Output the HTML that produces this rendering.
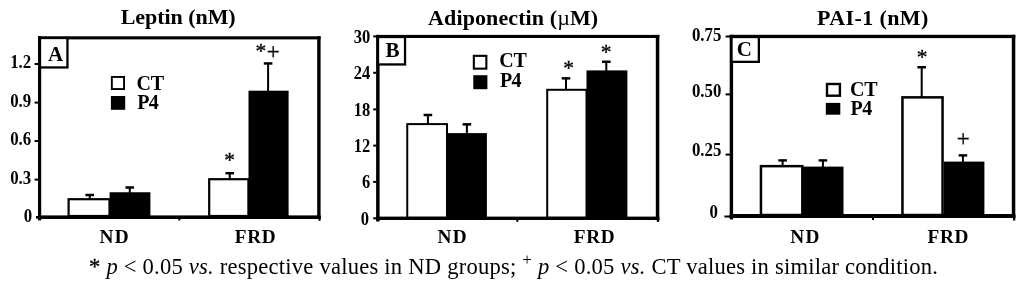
<!DOCTYPE html>
<html><head><meta charset="utf-8"><title>Figure</title>
<style>
html,body{margin:0;padding:0;background:#fff;}
svg{display:block;}
text{font-family:"Liberation Serif","Times New Roman",serif;fill:#000;}
</style></head><body>
<svg width="1024" height="283" viewBox="0 0 1024 283">
<rect x="0" y="0" width="1024" height="283" fill="#fff"/>
<rect x="38.00" y="36.30" width="282.60" height="3.10" fill="#000" />
<rect x="38.00" y="36.30" width="3.20" height="182.70" fill="#000" />
<rect x="317.20" y="36.30" width="3.40" height="182.70" fill="#000" />
<rect x="38.00" y="215.40" width="282.60" height="3.60" fill="#000" />
<rect x="40.00" y="38.00" width="27.45" height="29.45" fill="#fff" stroke="#000" stroke-width="2.3"/>
<text x="55.60" y="60.60" font-size="21" font-weight="bold" text-anchor="middle" >A</text>
<text x="120.70" y="24.00" font-size="22" font-weight="bold" text-anchor="start" textLength="115" lengthAdjust="spacing" >Leptin (nM)</text>
<text transform="translate(31.20,68.30) scale(0.86,1)" font-size="19.6" font-weight="bold" text-anchor="end">1.2</text>
<rect x="34.60" y="63.00" width="3.90" height="2.00" fill="#000" />
<text transform="translate(31.20,106.90) scale(0.86,1)" font-size="19.6" font-weight="bold" text-anchor="end">0.9</text>
<rect x="34.60" y="101.60" width="3.90" height="2.00" fill="#000" />
<text transform="translate(31.20,145.30) scale(0.86,1)" font-size="19.6" font-weight="bold" text-anchor="end">0.6</text>
<rect x="34.60" y="140.00" width="3.90" height="2.00" fill="#000" />
<text transform="translate(31.20,183.90) scale(0.86,1)" font-size="19.6" font-weight="bold" text-anchor="end">0.3</text>
<rect x="34.60" y="178.60" width="3.90" height="2.00" fill="#000" />
<text transform="translate(32.20,221.80) scale(0.86,1)" font-size="19.6" font-weight="bold" text-anchor="end">0</text>
<rect x="68.60" y="199.20" width="40.90" height="16.80" fill="#fff" stroke="#000" stroke-width="2.2"/>
<rect x="88.75" y="194.25" width="2.00" height="4.85" fill="#000" />
<rect x="85.45" y="193.75" width="8.60" height="2.50" fill="#000" />
<rect x="109.60" y="192.25" width="40.80" height="23.75" fill="#000" />
<rect x="128.75" y="186.75" width="2.00" height="6.50" fill="#000" />
<rect x="125.45" y="186.25" width="8.60" height="2.50" fill="#000" />
<rect x="209.20" y="179.20" width="39.20" height="36.80" fill="#fff" stroke="#000" stroke-width="2.2"/>
<rect x="228.75" y="172.50" width="2.00" height="6.60" fill="#000" />
<rect x="225.45" y="172.00" width="8.60" height="2.40" fill="#000" />
<rect x="248.50" y="90.70" width="40.10" height="125.30" fill="#000" />
<rect x="267.10" y="62.70" width="2.00" height="29.00" fill="#000" />
<rect x="263.80" y="62.20" width="8.60" height="2.50" fill="#000" />
<text x="229.50" y="167.30" font-size="21.5" text-anchor="middle" stroke="#000" stroke-width="0.35">*</text>
<text x="260.90" y="57.60" font-size="21.5" text-anchor="middle" stroke="#000" stroke-width="0.35">*</text>
<text x="273.30" y="58.80" font-size="23" text-anchor="middle" stroke="#000" stroke-width="0.3">+</text>
<rect x="111.85" y="76.95" width="12.20" height="12.10" fill="#fff" stroke="#000" stroke-width="1.9"/>
<rect x="110.90" y="96.00" width="14.30" height="13.80" fill="#000" />
<text x="136.60" y="89.80" font-size="20" font-weight="bold" text-anchor="start" textLength="27.6" lengthAdjust="spacing" >CT</text>
<text x="137.20" y="109.40" font-size="20" font-weight="bold" text-anchor="start" textLength="21.6" lengthAdjust="spacing" >P4</text>
<text x="114.00" y="243.40" font-size="19.3" font-weight="bold" text-anchor="middle" textLength="29.2" lengthAdjust="spacing" >ND</text>
<text x="255.20" y="243.40" font-size="19.3" font-weight="bold" text-anchor="middle" textLength="41" lengthAdjust="spacing" >FRD</text>
<rect x="178.30" y="216.00" width="2.00" height="4.50" fill="#000" />
<rect x="318.50" y="216.00" width="2.10" height="4.80" fill="#000" />
<rect x="36.00" y="216.00" width="2.50" height="2.70" fill="#000" />
<rect x="38.00" y="218.00" width="3.20" height="2.40" fill="#000" />
<rect x="376.10" y="34.90" width="283.20" height="3.10" fill="#000" />
<rect x="376.10" y="34.90" width="3.50" height="185.10" fill="#000" />
<rect x="655.80" y="34.90" width="3.50" height="185.10" fill="#000" />
<rect x="376.10" y="216.60" width="283.20" height="3.40" fill="#000" />
<rect x="378.00" y="37.00" width="27.05" height="27.45" fill="#fff" stroke="#000" stroke-width="2.3"/>
<text x="392.60" y="57.00" font-size="21" font-weight="bold" text-anchor="middle" >B</text>
<text x="428.10" y="25.00" font-size="22" font-weight="bold" text-anchor="start" textLength="170" lengthAdjust="spacing" >Adiponectin (<tspan font-weight="normal">µ</tspan>M)</text>
<text transform="translate(370.20,42.90) scale(0.93,1)" font-size="17.8" font-weight="bold" text-anchor="end">30</text>
<rect x="373.20" y="35.40" width="3.30" height="2.00" fill="#000" />
<text transform="translate(370.20,79.30) scale(0.93,1)" font-size="17.8" font-weight="bold" text-anchor="end">24</text>
<rect x="373.20" y="71.80" width="3.30" height="2.00" fill="#000" />
<text transform="translate(370.20,115.90) scale(0.93,1)" font-size="17.8" font-weight="bold" text-anchor="end">18</text>
<rect x="373.20" y="108.40" width="3.30" height="2.00" fill="#000" />
<text transform="translate(370.20,152.10) scale(0.93,1)" font-size="17.8" font-weight="bold" text-anchor="end">12</text>
<rect x="373.20" y="144.60" width="3.30" height="2.00" fill="#000" />
<text transform="translate(370.20,188.40) scale(0.93,1)" font-size="17.8" font-weight="bold" text-anchor="end">6</text>
<rect x="373.20" y="180.90" width="3.30" height="2.00" fill="#000" />
<text transform="translate(369.00,224.60) scale(0.93,1)" font-size="17.8" font-weight="bold" text-anchor="end">0</text>
<rect x="373.20" y="217.30" width="3.30" height="2.00" fill="#000" />
<rect x="407.25" y="124.10" width="39.75" height="93.40" fill="#fff" stroke="#000" stroke-width="2"/>
<rect x="426.90" y="114.25" width="2.00" height="9.85" fill="#000" />
<rect x="423.60" y="113.75" width="8.60" height="2.50" fill="#000" />
<rect x="447.00" y="133.10" width="39.90" height="84.40" fill="#000" />
<rect x="465.90" y="123.60" width="2.00" height="10.50" fill="#000" />
<rect x="462.60" y="123.10" width="8.60" height="2.50" fill="#000" />
<rect x="547.20" y="89.80" width="39.30" height="127.70" fill="#fff" stroke="#000" stroke-width="2"/>
<rect x="565.00" y="77.60" width="2.00" height="12.20" fill="#000" />
<rect x="561.70" y="77.10" width="8.60" height="2.50" fill="#000" />
<rect x="586.50" y="70.40" width="40.90" height="147.10" fill="#000" />
<rect x="605.30" y="61.00" width="2.00" height="10.40" fill="#000" />
<rect x="602.00" y="60.50" width="8.60" height="2.50" fill="#000" />
<text x="568.70" y="75.00" font-size="21.5" text-anchor="middle" stroke="#000" stroke-width="0.35">*</text>
<text x="606.20" y="59.40" font-size="21.5" text-anchor="middle" stroke="#000" stroke-width="0.35">*</text>
<rect x="473.85" y="55.85" width="12.50" height="12.80" fill="#fff" stroke="#000" stroke-width="2.1"/>
<rect x="473.30" y="75.20" width="14.10" height="14.00" fill="#000" />
<text x="499.30" y="67.00" font-size="20" font-weight="bold" text-anchor="start" textLength="27.6" lengthAdjust="spacing" >CT</text>
<text x="499.90" y="86.80" font-size="20" font-weight="bold" text-anchor="start" textLength="21.6" lengthAdjust="spacing" >P4</text>
<text x="452.00" y="243.40" font-size="19.3" font-weight="bold" text-anchor="middle" textLength="29.2" lengthAdjust="spacing" >ND</text>
<text x="594.30" y="243.40" font-size="19.3" font-weight="bold" text-anchor="middle" textLength="41" lengthAdjust="spacing" >FRD</text>
<rect x="516.30" y="217.00" width="2.00" height="4.80" fill="#000" />
<rect x="656.80" y="217.00" width="2.40" height="4.80" fill="#000" />
<rect x="376.10" y="219.00" width="3.50" height="2.50" fill="#000" />
<rect x="729.70" y="34.80" width="285.60" height="3.30" fill="#000" />
<rect x="729.70" y="34.80" width="3.40" height="183.20" fill="#000" />
<rect x="1011.80" y="34.80" width="3.50" height="183.20" fill="#000" />
<rect x="729.70" y="214.00" width="285.60" height="4.00" fill="#000" />
<rect x="731.50" y="37.00" width="27.35" height="24.85" fill="#fff" stroke="#000" stroke-width="2.3"/>
<text x="744.30" y="56.20" font-size="21" font-weight="bold" text-anchor="middle" >C</text>
<text x="817.00" y="25.00" font-size="22" font-weight="bold" text-anchor="start" textLength="111.3" lengthAdjust="spacing" >PAI-1 (nM)</text>
<text transform="translate(721.30,40.60) scale(0.89,1)" font-size="18.9" font-weight="bold" text-anchor="end">0.75</text>
<rect x="725.60" y="35.50" width="4.40" height="2.00" fill="#000" />
<text transform="translate(721.30,96.60) scale(0.89,1)" font-size="18.9" font-weight="bold" text-anchor="end">0.50</text>
<rect x="725.60" y="93.40" width="4.40" height="2.00" fill="#000" />
<text transform="translate(721.30,155.60) scale(0.89,1)" font-size="18.9" font-weight="bold" text-anchor="end">0.25</text>
<rect x="725.60" y="153.60" width="4.40" height="2.00" fill="#000" />
<text transform="translate(718.00,218.00) scale(0.89,1)" font-size="18.9" font-weight="bold" text-anchor="end">0</text>
<rect x="724.40" y="215.50" width="5.60" height="2.00" fill="#000" />
<rect x="760.95" y="166.15" width="41.40" height="48.85" fill="#fff" stroke="#000" stroke-width="2.5"/>
<rect x="781.60" y="159.70" width="2.00" height="6.20" fill="#000" />
<rect x="778.30" y="159.20" width="8.60" height="2.40" fill="#000" />
<rect x="801.90" y="166.60" width="41.60" height="48.40" fill="#000" />
<rect x="821.90" y="159.70" width="2.00" height="7.90" fill="#000" />
<rect x="818.60" y="159.20" width="8.60" height="2.40" fill="#000" />
<rect x="902.45" y="97.35" width="40.10" height="117.65" fill="#fff" stroke="#000" stroke-width="2.5"/>
<rect x="920.70" y="66.50" width="2.00" height="30.70" fill="#000" />
<rect x="917.40" y="66.00" width="8.60" height="2.50" fill="#000" />
<rect x="943.80" y="161.60" width="40.60" height="53.40" fill="#000" />
<rect x="961.90" y="154.70" width="2.00" height="7.90" fill="#000" />
<rect x="958.60" y="154.20" width="8.60" height="2.40" fill="#000" />
<text x="922.00" y="63.60" font-size="21.5" text-anchor="middle" stroke="#000" stroke-width="0.35">*</text>
<text x="963.20" y="146.40" font-size="23" text-anchor="middle" stroke="#000" stroke-width="0.3">+</text>
<rect x="827.00" y="84.00" width="12.90" height="11.70" fill="#fff" stroke="#000" stroke-width="2.4"/>
<rect x="825.80" y="102.90" width="14.50" height="11.80" fill="#000" />
<text x="850.00" y="96.10" font-size="20" font-weight="bold" text-anchor="start" textLength="27.6" lengthAdjust="spacing" >CT</text>
<text x="850.60" y="115.00" font-size="20" font-weight="bold" text-anchor="start" textLength="21.6" lengthAdjust="spacing" >P4</text>
<text x="804.80" y="243.40" font-size="19.3" font-weight="bold" text-anchor="middle" textLength="29.2" lengthAdjust="spacing" >ND</text>
<text x="948.00" y="243.40" font-size="19.3" font-weight="bold" text-anchor="middle" textLength="41" lengthAdjust="spacing" >FRD</text>
<rect x="872.00" y="215.00" width="2.00" height="5.00" fill="#000" />
<rect x="1013.00" y="215.00" width="2.30" height="5.50" fill="#000" />
<rect x="729.70" y="217.00" width="3.40" height="2.40" fill="#000" />
<text x="89" y="274.2" font-size="22.6" font-weight="normal" textLength="849" lengthAdjust="spacing"><tspan stroke="#000" stroke-width="0.3">*</tspan> <tspan font-style="italic">p</tspan> &lt; 0.05 <tspan font-style="italic">vs.</tspan> respective values in ND groups; <tspan font-size="17" dy="-9">+</tspan><tspan dy="9"> </tspan><tspan font-style="italic">p</tspan> &lt; 0.05 <tspan font-style="italic">vs.</tspan> CT values in similar condition.</text>
</svg>
</body></html>
